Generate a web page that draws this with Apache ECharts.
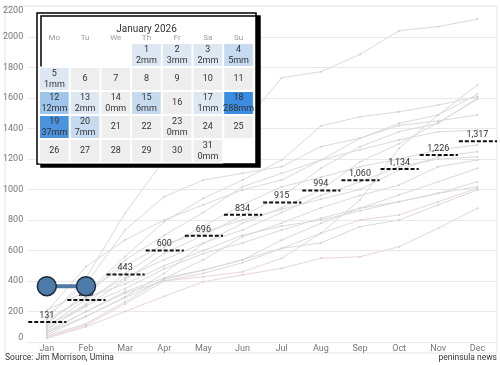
<!DOCTYPE html>
<html><head><meta charset="utf-8">
<script src="https://cdn.jsdelivr.net/npm/echarts@6/dist/echarts.min.js"></script>
<style>html,body{margin:0;padding:0;background:#fff}#c{width:500px;height:365px}</style>
</head><body><div id="c"></div>
<script>
const FONT = 'Roboto, "Open Sans", sans-serif';
const months = ['Jan','Feb','Mar','Apr','May','Jun','Jul','Aug','Sep','Oct','Nov','Dec'];
const avgValues = [131, 275, 443, 600, 696, 834, 915, 994, 1060, 1134, 1226, 1317];
const current2026 = [366, 366];

// historical cumulative rainfall lines (mm)
const h01 = [150, 420, 846, 1193, 1320, 1420, 1733, 1772, 1886, 2041, 2068, 2118];
const h02 = [60, 170, 290, 410, 470, 540, 614, 713, 931, 1270, 1489, 1685];
const h03 = [120, 320, 560, 789, 942, 1062, 1193, 1416, 1477, 1510, 1554, 1609];
const h04 = [200, 494, 669, 800, 900, 997, 1062, 1193, 1336, 1434, 1489, 1624];
const h05 = [90, 232, 407, 581, 700, 830, 953, 1139, 1281, 1379, 1434, 1600];
const h06 = [46, 166, 297, 450, 647, 778, 880, 997, 1182, 1300, 1440, 1591];
const h07 = [170, 380, 734, 953, 1062, 1106, 1150, 1281, 1336, 1420, 1450, 1489];
const h08 = [130, 300, 538, 700, 850, 1018, 1106, 1193, 1260, 1325, 1379, 1390];
const h09 = [80, 250, 450, 620, 760, 900, 1018, 1080, 1150, 1200, 1260, 1292];
const h10 = [210, 330, 500, 640, 720, 800, 870, 936, 1000, 1128, 1215, 1248];
const h11 = [100, 280, 420, 540, 650, 734, 850, 960, 1050, 1150, 1200, 1215];
const h12 = [40, 120, 264, 417, 540, 690, 780, 880, 960, 1030, 1150, 1193];
const h13 = [110, 240, 350, 480, 580, 650, 734, 811, 877, 964, 1051, 1139];
const h14 = [70, 200, 330, 420, 472, 538, 669, 778, 877, 920, 975, 1051];
const h15 = [150, 290, 380, 500, 600, 700, 760, 800, 860, 920, 975, 1018];
const h16 = [30, 110, 250, 400, 428, 460, 549, 713, 800, 833, 920, 1008];
const h17 = [60, 200, 320, 400, 450, 520, 614, 650, 756, 800, 900, 997];
const h18 = [25, 100, 200, 300, 395, 440, 483, 549, 559, 625, 746, 877];
const history = [h01,h02,h03,h04,h05,h06,h07,h08,h09,h10,h11,h12,h13,h14,h15,h16,h17,h18];
const pinkLines = [16, 18];

// January 2026 daily rainfall
const rainDays = [1, 2, 3, 4, 5, 12, 13, 14, 15, 17, 18, 19, 20, 23, 31];
const rainMm   = [2, 3, 2, 5, 1, 12, 2, 0, 6, 1, 288, 37, 7, 0, 0];

const calData = [];
for (let d = 1; d <= 31; d++) {
  const i = rainDays.indexOf(d);
  calData.push(['2026-01-' + String(d).padStart(2, '0'), i >= 0 ? rainMm[i] : -1]);
}

const fmt = v => Math.round(v).toLocaleString('en-US');

const series = [];
history.forEach((arr, k) => {
  const pink = pinkLines.includes(k + 1);
  series.push({
    type: 'line', data: arr, z: 2, silent: true,
    symbol: 'circle', symbolSize: 2, showSymbol: true,
    lineStyle: { color: pink ? '#ead6d6' : '#dadada', width: 1 },
    itemStyle: { color: pink ? '#e0c8c8' : '#d0d0d0' },
    animation: false
  });
});
series.push({
  type: 'custom', z: 3, animation: false,
  data: avgValues.map((v, i) => [i, v]),
  encode: { x: 0, y: 1 },
  renderItem: (params, api) => {
    const p = api.coord([api.value(0), api.value(1)]);
    const bw = api.size([1, 0])[0];
    return { type: 'group', children: [
      { type: 'line', shape: { x1: p[0] - bw / 2 + 1, y1: p[1], x2: p[0] + bw / 2, y2: p[1] },
        style: { stroke: '#111', lineWidth: 2, lineDash: [4, 2] } },
      { type: 'text', x: p[0], y: p[1] - 2,
        style: { text: fmt(api.value(1)), fill: '#333', fontSize: 9, fontFamily: FONT,
                 align: 'center', verticalAlign: 'bottom' } }
    ]};
  }
});
series.push({
  type: 'line', data: current2026, z: 4, animation: false,
  symbol: 'circle', symbolSize: 19,
  lineStyle: { color: '#4e79a7', width: 4 },
  itemStyle: { color: '#4f7bab', borderColor: '#1d2a3a', borderWidth: 1.5 }
});
series.push({
  type: 'heatmap', coordinateSystem: 'calendar', calendarIndex: 0, z: 12,
  data: calData, animation: false,
  itemStyle: { borderColor: '#fff', borderWidth: 1 },
  label: {
    show: true, fontSize: 9, color: '#333', fontFamily: FONT, lineHeight: 11,
    formatter: p => {
      const d = +p.value[0].slice(8);
      const v = p.value[1];
      return v < 0 ? String(d) : d + '\n' + v + 'mm';
    }
  }
});

const option = {
  backgroundColor: '#fff',
  animation: false,
  textStyle: { fontFamily: FONT },
  grid: { left: 25, right: 3, top: 6.5, bottom: 23 },
  xAxis: {
    type: 'category', data: months, boundaryGap: true,
    axisLine: { show: false }, axisTick: { show: false },
    axisLabel: { color: '#777', fontSize: 9, margin: 2, fontFamily: FONT }
  },
  yAxis: {
    type: 'value', min: 0, max: 2200, interval: 200,
    axisLine: { show: false }, axisTick: { show: false },
    splitLine: { lineStyle: { color: '#e9e9e9', width: 1 } },
    axisLabel: { color: '#777', fontSize: 9, margin: 4, fontFamily: FONT,
                 formatter: v => String(v),
                 verticalAlignMinLabel: 'bottom', verticalAlignMaxLabel: 'top' }
  },
  calendar: {
    z: 11,
    orient: 'vertical',
    range: '2026-01',
    left: 39, top: 43,
    cellSize: [30.7, 24],
    splitLine: { show: false },
    itemStyle: { color: '#eeeeee', borderColor: '#fff', borderWidth: 1 },
    dayLabel: { firstDay: 1, position: 'start', margin: 1, fontSize: 8, color: '#9a9a9a',
                fontFamily: FONT, nameMap: ['Su','Mo','Tu','We','Th','Fr','Sa'] },
    monthLabel: { show: false },
    yearLabel: { show: false }
  },
  visualMap: {
    type: 'piecewise', show: false, seriesIndex: history.length + 2, dimension: 1,
    pieces: [
      { max: 0.5, color: '#eeeeee' },
      { min: 0.5, max: 4, color: '#dde8f3' },
      { min: 4, max: 10, color: '#c6dbf0' },
      { min: 10, max: 20, color: '#9fc5ea' },
      { min: 20, max: 100, color: '#4b93dc' },
      { min: 100, color: '#3a8de0' }
    ]
  },
  graphic: [
    { type: 'rect', z: 0, silent: true, shape: { x: 5, y: 6, width: 492, height: 347 },
      style: { fill: 'none', stroke: '#e6e6e6', lineWidth: 1 } },
    { type: 'rect', z: 10, silent: true, shape: { x: 37, y: 13, width: 219, height: 151 },
      style: { fill: '#fff', stroke: '#000', lineWidth: 1.5,
               shadowColor: '#000', shadowOffsetX: 4, shadowOffsetY: 3, shadowBlur: 0 } },
    { type: 'text', z: 13, x: 146.5, y: 29,
      style: { text: 'January 2026', fill: '#333', fontSize: 10, fontFamily: FONT,
               align: 'center', verticalAlign: 'middle' } },
    { type: 'text', z: 13, x: 5, y: 358,
      style: { text: 'Source: Jim Morrison, Umina', fill: '#333', fontSize: 8.5, fontFamily: FONT,
               align: 'left', verticalAlign: 'middle' } },
    { type: 'text', z: 13, x: 497, y: 358,
      style: { text: 'peninsula news', fill: '#333', fontSize: 8.5, fontFamily: FONT,
               align: 'right', verticalAlign: 'middle' } }
  ],
  series: series
};
const chart = echarts.init(document.getElementById('c'), null, { renderer: 'canvas' });
chart.setOption(option);
</script>
</body></html>
